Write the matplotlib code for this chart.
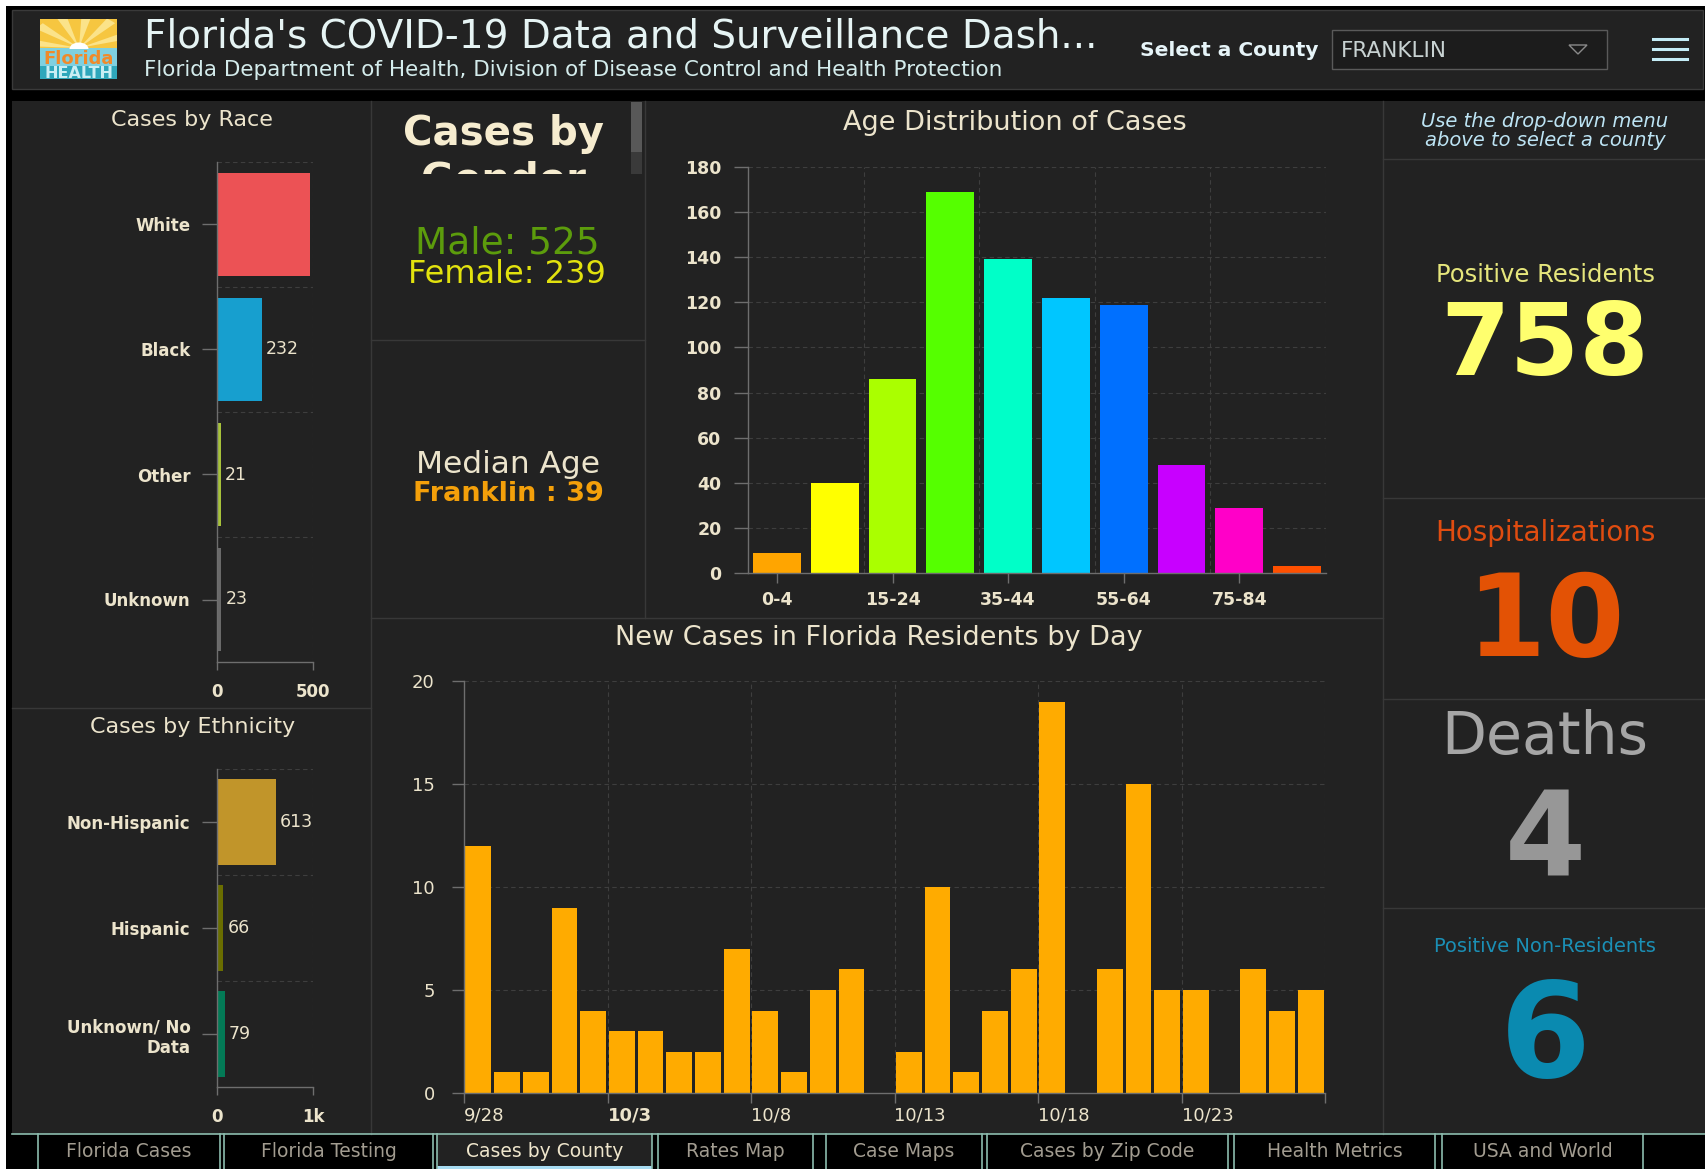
import matplotlib
matplotlib.use("Agg")
import matplotlib.pyplot as plt
from matplotlib.patches import Rectangle, Wedge, Polygon
from matplotlib.lines import Line2D
from matplotlib.transforms import Bbox, TransformedBbox
import pandas as pd

W, H = 1705, 1169

# ---- data ----
race_labels = ["White", "Black", "Other", "Unknown"]
race_values = [482, 232, 21, 23]
race_colors = ["#ec5255", "#179fcf", "#a7c23a", "#6a6a6a"]

eth_labels = ["Non-Hispanic", "Hispanic", "Unknown/ No\nData"]
eth_values = [613, 66, 79]
eth_colors = ["#c1952a", "#6a6e00", "#037a56"]

age_groups = ["0-4", "5-14", "15-24", "25-34", "35-44", "45-54", "55-64", "65-74", "75-84", "85+"]
age_cases = [9, 40, 86, 169, 139, 122, 119, 48, 29, 3]
age_colors = ["#ffa500", "#ffff00", "#aaff00", "#55ff00", "#00ffc8", "#00c6ff",
              "#0070ff", "#c800ff", "#ff00c8", "#ff5000"]

first_day = "2020-09-28"
daily_cases = [12, 1, 1, 9, 4, 3, 3, 2, 2, 7, 4, 1, 5, 6, 0,
               2, 10, 1, 4, 6, 19, 0, 6, 15, 5, 5, 0, 6, 4, 5]

county = "FRANKLIN"
male_cases, female_cases = 525, 239
median_age = 39
positive_residents = 758
hospitalizations = 10
deaths = 4
non_residents = 6

tabs = ["Florida Cases", "Florida Testing", "Cases by County", "Rates Map",
        "Case Maps", "Cases by Zip Code", "Health Metrics", "USA and World"]
tab_edges = [(38, 220), (224, 433), (437, 652), (658, 813), (826, 982),
             (987, 1228), (1234, 1435), (1442, 1643)]
active_tab = 2

PANEL = "#222222"
LINE = "#383838"
CREAM = "#ece4cc"
GRID = "#3e3e3e"

fig = plt.figure(figsize=(W / 100, H / 100), dpi=100, facecolor="black")


def fx(x):
    return x / W


def fy(y):
    return 1 - y / H


def rect(x0, y0, x1, y1, color, edge="none", lw=1, zorder=-2):
    r = Rectangle((fx(x0), fy(y1)), (x1 - x0) / W, (y1 - y0) / H,
                  transform=fig.transFigure, facecolor=color,
                  edgecolor=edge, lw=lw, zorder=zorder)
    fig.add_artist(r)
    return r


def line(x0, y0, x1, y1, color=LINE, lw=1.0):
    fig.add_artist(Line2D([fx(x0), fx(x1)], [fy(y0), fy(y1)],
                          transform=fig.transFigure, color=color, lw=lw))


def text(x, y, s, **kw):
    kw.setdefault("ha", "center")
    kw.setdefault("va", "baseline")
    return fig.text(fx(x), fy(y), s, **kw)


def clip_to(artist, x0, y0, x1, y1):
    artist.set_clip_box(TransformedBbox(Bbox([[fx(x0), fy(y1)], [fx(x1), fy(y0)]]),
                                        fig.transFigure))


def chart_axes(x0, y0, x1, y1):
    ax = fig.add_axes([fx(x0), fy(y1), (x1 - x0) / W, (y1 - y0) / H])
    ax.set_facecolor(PANEL)
    for side in ("top", "right"):
        ax.spines[side].set_visible(False)
    for side in ("left", "bottom"):
        ax.spines[side].set_color("#6e6e6e")
        ax.spines[side].set_linewidth(1)
    ax.tick_params(color="#6e6e6e", labelcolor=CREAM, length=7, width=1)
    return ax


def dashed_h(ax, y):
    ax.axhline(y, color=GRID, lw=0.8, ls=(0, (4, 3)), zorder=0)


def dashed_v(ax, x):
    ax.axvline(x, color=GRID, lw=0.8, ls=(0, (4, 3)), zorder=0)


# ---- frame / header ----
rect(0, 0, W, 6, "white")
rect(0, 0, 6, H, "white")
rect(12, 10, 1703, 89, PANEL, edge="#3a3a3a")
rect(12, 101, W, 1134, PANEL)

# logo
rect(40, 19, 117, 50, "#f6c640", zorder=-1)
for ang in range(15, 180, 30):
    w = Wedge((fx(79), fy(48)), 0.03, ang, ang + 12, transform=fig.transFigure,
              facecolor="#fbe38a", edgecolor="none", zorder=-0.9)
    fig.add_artist(w)
    clip_to(w, 40, 19, 117, 48)
rect(40, 48, 117, 79, "#7fd0e0", zorder=-0.8)
rect(40, 66, 117, 79, "#2ea7bb", zorder=-0.8)
fig.add_artist(Wedge((fx(79), fy(49)), 9.5 / W, 0, 180, transform=fig.transFigure,
                     facecolor="white", edgecolor="none", zorder=-0.7))
text(79, 64, "Florida", fontsize=13, fontweight="bold", color="#f08a2a")
text(79, 78, "HEALTH", fontsize=11.5, fontweight="bold", color="#c8eef4")

text(144, 47, "Florida's COVID-19 Data and Surveillance Dash...", ha="left",
     fontsize=28, color="#e6f4f4")
text(144, 76, "Florida Department of Health, Division of Disease Control and Health Protection",
     ha="left", fontsize=15.5, color="#d4ecec")
text(1140, 56, "Select a County", ha="left", fontsize=14.5, fontweight="bold", color="#e6f4f8")
rect(1332, 30, 1607, 69, "#1c1c1c", edge="#5a5a5a", zorder=-1)
text(1341, 57, county, ha="left", fontsize=15.5, color="#c8d2d2")
fig.add_artist(Polygon([(fx(1569), fy(45)), (fx(1587), fy(45)), (fx(1578), fy(54))],
                       closed=True, transform=fig.transFigure, facecolor="none",
                       edgecolor="#8a8a8a", lw=1))
for yy in (39, 49, 59):
    line(1653, yy, 1687, yy, "#c4ecf6", lw=2.2)

# ---- panel dividers ----
line(371, 101, 371, 1134)
line(12, 708, 371, 708)
line(645, 101, 645, 618)
line(371, 340, 645, 340)
line(371, 618, 1383, 618)
line(1383, 101, 1383, 1134)
for yy in (159, 498, 699, 908):
    line(1383, yy, W, yy)

# ---- cases by race ----
text(192, 126, "Cases by Race", fontsize=16, color=CREAM)
ax = chart_axes(217, 162, 313, 662)
pos = range(len(race_labels))
ax.barh(pos, race_values, height=0.82, color=race_colors, zorder=2)
ax.set_xlim(0, 500)
ax.set_ylim(len(race_labels) - 0.5, -0.5)
for b in [p - 0.5 for p in pos]:
    dashed_h(ax, b)
dashed_v(ax, 500)
ax.set_yticks(list(pos), race_labels, fontsize=12, fontweight="bold")
ax.set_xticks([0, 500], ["0", "500"], fontsize=12, fontweight="bold")
ax.tick_params(axis="y", length=11, pad=8)
ax.tick_params(axis="x", length=6, pad=9)
for i, v in enumerate(race_values):
    if v < 0.9 * 500:
        ax.annotate(str(v), (v, i), xytext=(3, 0), textcoords="offset points",
                    va="center", fontsize=12.5, color=CREAM)

# ---- cases by ethnicity ----
text(193, 733, "Cases by Ethnicity", fontsize=16, color=CREAM)
ax = chart_axes(217, 769, 313, 1087)
pos = range(len(eth_labels))
ax.barh(pos, eth_values, height=0.81, color=eth_colors, zorder=2)
ax.set_xlim(0, 1000)
ax.set_ylim(len(eth_labels) - 0.5, -0.5)
for b in [p - 0.5 for p in pos]:
    dashed_h(ax, b)
dashed_v(ax, 1000)
ax.set_yticks(list(pos), eth_labels, fontsize=12, fontweight="bold")
ax.set_xticks([0, 1000], ["0", "1k"], fontsize=12, fontweight="bold")
ax.tick_params(axis="y", length=11, pad=8)
ax.tick_params(axis="x", length=6, pad=9)
for i, v in enumerate(eth_values):
    if v < 0.9 * 1000:
        ax.annotate(str(v), (v, i), xytext=(3, 0), textcoords="offset points",
                    va="center", fontsize=12.5, color=CREAM)

# ---- gender / median age ----
rect(631, 102, 642, 152, "#585858", zorder=-1)
rect(631, 152, 642, 174, "#3a3a3a", zorder=-1)
text(503, 145, "Cases by", fontsize=29, fontweight="bold", color="#f6eccf")
g = text(503, 191, "Gender", fontsize=29, fontweight="bold", color="#f6eccf")
clip_to(g, 372, 101, 630, 174)
text(507, 254, f"Male: {male_cases}", fontsize=27, color="#5c9c0c")
text(507, 283, f"Female: {female_cases}", fontsize=23, color="#e2e20e")
text(508, 473, "Median Age", fontsize=22.5, color=CREAM)
text(508, 501, f"{county.title()} : {median_age}", fontsize=19.5, fontweight="bold",
     color="#f4a00a")

# ---- age distribution ----
text(1015, 130, "Age Distribution of Cases", fontsize=19.5, color=CREAM)
ax = chart_axes(748, 167, 1326, 573)
ax.bar(range(len(age_groups)), age_cases, width=0.83, color=age_colors, zorder=2)
ax.set_xlim(-0.5, len(age_groups) - 0.5)
ax.set_ylim(0, 180)
for v in range(20, 181, 20):
    dashed_h(ax, v)
for v in (1.5, 3.5, 5.5, 7.5, 9.5):
    dashed_v(ax, v)
ax.set_yticks(range(0, 181, 20))
ax.set_xticks(range(0, len(age_groups), 2), age_groups[::2])
ax.tick_params(labelsize=12.5)
for lab in ax.get_xticklabels() + ax.get_yticklabels():
    lab.set_fontweight("bold")
ax.tick_params(axis="y", length=10, pad=9)
ax.tick_params(axis="x", length=7, pad=6)

# ---- new cases by day ----
text(879, 645, "New Cases in Florida Residents by Day", fontsize=19.5, color=CREAM)
ax = chart_axes(464, 681, 1325, 1093)
days = pd.date_range(first_day, periods=len(daily_cases))
ax.bar([i + 0.5 for i in range(len(days))], daily_cases, width=0.9, color="#ffab00", zorder=2)
ax.set_xlim(0, len(days))
ax.set_ylim(0, 20)
for v in range(5, 21, 5):
    dashed_h(ax, v)
for v in range(5, len(days) + 1, 5):
    dashed_v(ax, v)
ax.set_yticks(range(0, 21, 5))
tick_days = list(range(0, len(days) + 1, 5))
tick_labels = [f"{days[i].month}/{days[i].day}" if i < len(days) else "" for i in tick_days]
ax.set_xticks(tick_days, tick_labels)
ax.tick_params(labelsize=13)
ax.tick_params(axis="y", length=9, pad=12)
ax.tick_params(axis="x", length=7, pad=3)
for i, lab in enumerate(ax.get_xticklabels()):
    lab.set_horizontalalignment("left")
    if i == 1:
        lab.set_fontweight("bold")

# ---- right column ----
cx = 1545
text(cx, 127, "Use the drop-down menu", fontsize=14, style="italic", color="#bde4f4")
text(cx, 146, "above to select a county", fontsize=14, style="italic", color="#bde4f4")
text(cx, 282, "Positive Residents", fontsize=17.5, color="#e6e67c")
text(cx, 375, f"{positive_residents}", fontsize=72, fontweight="bold", color="#ffff6e")
text(cx, 541, "Hospitalizations", fontsize=20, color="#e04c10")
text(cx, 656, f"{hospitalizations}", fontsize=82, fontweight="bold", color="#e35205")
text(cx, 754, "Deaths", fontsize=42, color="#a6a6a6")
text(cx, 877, f"{deaths}", fontsize=84, fontweight="bold", color="#979797")
text(cx, 1077, f"{non_residents}", fontsize=94, fontweight="bold", color="#0a8ab0")
text(cx, 952, "Positive Non-Residents", fontsize=14, color="#1b8fb5")

# ---- tabs ----
TAB_LINE = "#8cbcae"
line(12, 1134, W, 1134, TAB_LINE, lw=1.2)
for i, (name, (x0, x1)) in enumerate(zip(tabs, tab_edges)):
    if i == active_tab:
        rect(x0, 1134, x1, 1169, PANEL, zorder=-1)
        rect(x0, 1166, x1, 1169, "#a8dcf2", zorder=-1)
        col = "#efe6cc"
    else:
        col = "#a29c90"
    line(x0, 1134, x0, 1169, TAB_LINE, lw=1.2)
    line(x1, 1134, x1, 1169, TAB_LINE, lw=1.2)
    text((x0 + x1) / 2, 1157, name, fontsize=13.5, color=col)

fig.savefig("out.png", dpi=100, facecolor=fig.get_facecolor())
